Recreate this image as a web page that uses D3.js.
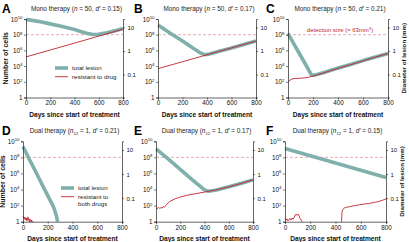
<!DOCTYPE html>
<html>
<head>
<meta charset="utf-8">
<script src="https://cdn.jsdelivr.net/npm/d3@7"></script>
<style>
  body { margin: 0; background: #fff; }
  svg { display: block; font-family: "Liberation Sans", "DejaVu Sans", sans-serif; }
</style>
</head>
<body>
<div id="chart"></div>
<script>
// values are log10(number of cells)
const daysA = [0, 100, 200, 300, 400, 450, 500, 550, 600, 650, 700, 750, 800];
const totalA = [9.95, 9.7, 9.38, 9.05, 8.65, 8.42, 8.18, 8.02, 8.04, 8.2, 8.38, 8.58, 8.8];
const resistDaysA = [0, 200, 400, 600, 800];
const resistA = [5.17, 6.05, 6.93, 7.82, 8.7];

const daysB = [0, 100, 200, 300, 350, 380, 420, 500, 600, 700, 800];
const totalB = [9.23, 8.2, 7.2, 6.15, 5.65, 5.45, 5.55, 5.9, 6.3, 6.75, 7.2];
const resistDaysB = [0, 200, 400, 600, 800];
const resistB = [3.68, 4.56, 5.44, 6.32, 7.2];

const daysC = [0, 50, 100, 150, 188, 215, 300, 400, 500, 600, 700, 800];
const totalC = [8.17, 6.75, 5.35, 3.95, 2.85, 2.85, 3.25, 3.75, 4.2, 4.7, 5.15, 5.6];
const resistDaysC = [0, 10, 20, 40, 60, 90, 134, 170, 215, 260, 349, 420, 483, 550, 617, 700, 800];
const resistC = [1.96, 2.15, 2.25, 2.4, 2.42, 2.45, 2.5, 2.6, 2.8, 3.0, 3.46, 3.8, 4.1, 4.42, 4.74, 5.15, 5.6];

const daysD = [0, 50, 100, 150, 200, 230, 250, 262, 270, 276, 280];
const totalD = [9.35, 7.8, 6.3, 4.75, 3.25, 2.35, 1.7, 1.15, 0.7, 0.3, 0];
const resistDaysD = [0, 4, 8, 12, 16, 20, 24, 28, 32, 36, 40, 44, 48, 52, 56, 60, 64, 68, 72, 76, 80];
const resistD = [0.7, 0.6, 0.45, 0.55, 0.3, 0.5, 0.2, 0.45, 0.1, 0.4, 0.6, 0.2, 0.35, 0, 0.3, 0.25, 0, 0.2, 0, 0.1, 0];

const daysE = [0, 100, 200, 300, 400, 430, 460, 500, 600, 700, 800];
const totalE = [9.05, 7.8, 6.5, 5.2, 3.95, 3.8, 3.85, 3.95, 4.35, 4.75, 5.2];
const resistDaysE = [0, 10, 20, 30, 40, 50, 60, 70, 85, 111, 150, 194, 260, 333, 400, 444, 520, 611, 700, 800];
const resistE = [1.7, 1.6, 1.8, 1.65, 1.75, 1.7, 1.85, 1.8, 2.1, 2.5, 2.8, 3.04, 3.3, 3.5, 3.68, 3.8, 4.05, 4.37, 4.75, 5.2];

const daysF = [0, 800];
const totalF = [9.1, 5.5];
const resistDaysF1 = [0, 8, 16, 24, 32, 40, 48, 56, 64, 72, 80, 88, 96, 104, 112, 120, 128, 136];
const resistF1 = [0.4, 0.2, 0.35, 0.1, 0.3, 0.4, 0.2, 0.45, 0.3, 0.5, 0.85, 0.9, 0.8, 0.95, 0.7, 0.4, 0.2, 0];
const resistDaysF2 = [448, 452, 460, 470, 490, 520, 550, 590, 627, 660, 707, 740, 770, 800];
const resistF2 = [0, 1.3, 1.55, 1.7, 1.8, 1.9, 2.0, 2.1, 2.2, 2.25, 2.4, 2.5, 2.65, 2.85];

const xTicks = [0, 200, 400, 600, 800];
const yTicks = [1, 1e2, 1e4, 1e6, 1e8, 1e10];
const diamTicks = [0.1, 1, 10];

const teal = "#7fb0ac";
const red = "#c0242c";

const width = 409, height = 242;
const svg = d3.select("#chart").append("svg")
    .attr("width", width)
    .attr("height", height);

const panels = [
    {letter: "A", lx: 2, kind: "Mono", k: "50", d: "0.15", left: 26, right: 123, top: 19, bottom: 97.5,
     lines: [[daysA, totalA]], red: [[resistDaysA, resistA]], yLabel: true},
    {letter: "B", lx: 134, kind: "Mono", k: "50", d: "0.17", left: 158, right: 256, top: 19, bottom: 97.5,
     lines: [[daysB, totalB]], red: [[resistDaysB, resistB]]},
    {letter: "C", lx: 266, kind: "Mono", k: "50", d: "0.21", left: 288, right: 388, top: 19, bottom: 97.5,
     lines: [[daysC, totalC]], red: [[resistDaysC, resistC]], dLabel: true, detection: true},
    {letter: "D", lx: 2, kind: "Dual", k: "1", d: "0.21", left: 23, right: 122, top: 141.3, bottom: 221.7,
     lines: [[daysD, totalD]], red: [[resistDaysD, resistD]], yLabel: true},
    {letter: "E", lx: 134, kind: "Dual", k: "1", d: "0.17", left: 156, right: 253, top: 141.3, bottom: 221.7,
     lines: [[daysE, totalE]], red: [[resistDaysE, resistE]]},
    {letter: "F", lx: 266, kind: "Dual", k: "1", d: "0.15", left: 285, right: 386, top: 141.3, bottom: 221.7,
     lines: [[daysF, totalF]], red: [[resistDaysF1, resistF1], [resistDaysF2, resistF2]], dLabel: true}
];

// diameter (mm) of a lesion of c cells; 1e8 cells ~ 63 mm^3
const diam = c => 4.94 * Math.cbrt(c / 1e8);

panels.forEach(p => {
    const x = d3.scaleLinear().domain([0, 800]).range([p.left, p.right]);
    const y = d3.scaleLog().domain([1, 1e10]).range([p.bottom, p.top]).clamp(true);
    const yd = d3.scaleLog().domain([diam(1), diam(1e10)]).range([p.bottom, p.top]);
    const g = svg.append("g");

    // detection threshold
    g.append("line")
        .attr("x1", p.left).attr("x2", p.right)
        .attr("y1", y(1e8)).attr("y2", y(1e8))
        .attr("stroke", "#d98c8c").attr("stroke-width", 0.7)
        .attr("stroke-dasharray", "3,2");

    const line = d3.line()
        .x(d => x(d[0]))
        .y(d => y(Math.pow(10, d[1])));

    p.lines.forEach(([xs, ys]) => {
        g.append("path")
            .attr("d", line(xs.map((v, i) => [v, ys[i]])))
            .attr("fill", "none")
            .attr("stroke", teal)
            .attr("stroke-width", 3.6)
            .attr("stroke-linejoin", "round");
    });
    p.red.forEach(([xs, ys]) => {
        g.append("path")
            .attr("d", line(xs.map((v, i) => [v, ys[i]])))
            .attr("fill", "none")
            .attr("stroke", red)
            .attr("stroke-width", 0.9);
    });

    // axes
    const xAxis = g.append("g")
        .attr("transform", `translate(0,${p.bottom})`)
        .call(d3.axisBottom(x).tickValues(xTicks).tickSize(2).tickPadding(1.5));
    const yAxis = g.append("g")
        .attr("transform", `translate(${p.left},0)`)
        .call(d3.axisLeft(y).tickValues(yTicks).tickSize(2).tickPadding(1.5).tickFormat(() => ""));
    const rAxis = g.append("g")
        .attr("transform", `translate(${p.right},0)`)
        .call(d3.axisRight(yd).tickValues(diamTicks).tickSize(2).tickPadding(2.5)
            .tickFormat(d => d === 0.1 ? "0.1" : d3.format("d")(d)));
    [xAxis, yAxis, rAxis].forEach(a => {
        a.select(".domain").attr("stroke", "#222").attr("stroke-width", 0.7);
        a.selectAll(".tick line").attr("stroke", "#222").attr("stroke-width", 0.6);
        a.selectAll("text").attr("font-size", 6.3).attr("fill", "#111").attr("font-family", null);
    });
    rAxis.selectAll("text").attr("font-size", 6);

    // log tick labels with superscripts
    yAxis.selectAll(".tick text").each(function(d) {
        const t = d3.select(this).text("");
        const e = Math.round(Math.log10(d));
        if (e === 0) { t.text("1"); return; }
        t.append("tspan").text("10");
        t.append("tspan").attr("dy", -2.6).attr("font-size", 4.3).text(e);
    });

    // panel letter
    svg.append("text")
        .attr("x", p.lx).attr("y", p.top - 6.5)
        .attr("font-size", 12).attr("font-weight", "bold")
        .text(p.letter);

    // title
    const title = svg.append("text")
        .attr("x", (p.left + p.right) / 2 + 2).attr("y", p.top - 8)
        .attr("text-anchor", "middle")
        .attr("font-size", 6.4).attr("fill", "#222");
    title.append("tspan").text(p.kind + " therapy (");
    title.append("tspan").attr("font-style", "italic").text("n");
    if (p.kind === "Dual") {
        title.append("tspan").attr("dy", 1.5).attr("font-size", 4.4).text("12");
        title.append("tspan").attr("dy", -1.5).text(" = " + p.k + ", ");
    } else {
        title.append("tspan").text(" = " + p.k + ", ");
    }
    title.append("tspan").attr("font-style", "italic").text("d′");
    title.append("tspan").text(" = " + p.d + ")");

    // x label
    svg.append("text")
        .attr("x", (p.left + p.right) / 2).attr("y", p.bottom + 19.5)
        .attr("text-anchor", "middle")
        .attr("font-size", 6.6).attr("font-weight", "bold").attr("fill", "#111")
        .text("Days since start of treatment");

    if (p.yLabel) {
        svg.append("text")
            .attr("transform", `translate(${p.left - 18.5},${(p.top + p.bottom) / 2}) rotate(-90)`)
            .attr("text-anchor", "middle")
            .attr("font-size", 7).attr("font-weight", "bold").attr("fill", "#111")
            .text("Number of cells");
    }
    if (p.dLabel) {
        svg.append("text")
            .attr("transform", `translate(${p.right + 17.5},${(p.top + p.bottom) / 2}) rotate(-90)`)
            .attr("text-anchor", "middle")
            .attr("font-size", 6.2).attr("font-weight", "bold").attr("fill", "#111")
            .text("Diameter of lesion (mm)");
    }
    if (p.detection) {
        const t = svg.append("text")
            .attr("x", (p.left + p.right) / 2 + 2).attr("y", y(1e8) - 2.5)
            .attr("text-anchor", "middle")
            .attr("font-size", 6).attr("fill", red)
            .text("detection size (≈ 63mm");
        t.append("tspan").attr("dy", -2.3).attr("font-size", 4.2).text("3");
        t.append("tspan").attr("dy", 2.3).text(")");
    }
});

// legends
function legend(px, py, items) {
    items.forEach((it, i) => {
        const yy = py + i * 8.7;
        svg.append("line")
            .attr("x1", px).attr("x2", px + 13)
            .attr("y1", yy).attr("y2", yy)
            .attr("stroke", it.color).attr("stroke-width", it.w);
        it.text.forEach((s, j) => {
            svg.append("text")
                .attr("x", px + 17).attr("y", yy + 2 + j * 7)
                .attr("font-size", 6.2).attr("fill", "#222")
                .text(s);
        });
    });
}
legend(55, 68, [
    {color: teal, w: 3.6, text: ["total lesion"]},
    {color: red, w: 0.9, text: ["resistant to drug"]}
]);
legend(61, 188, [
    {color: teal, w: 3.6, text: ["total lesion"]},
    {color: red, w: 0.9, text: ["resistant to", "both drugs"]}
]);
</script>
</body>
</html>
